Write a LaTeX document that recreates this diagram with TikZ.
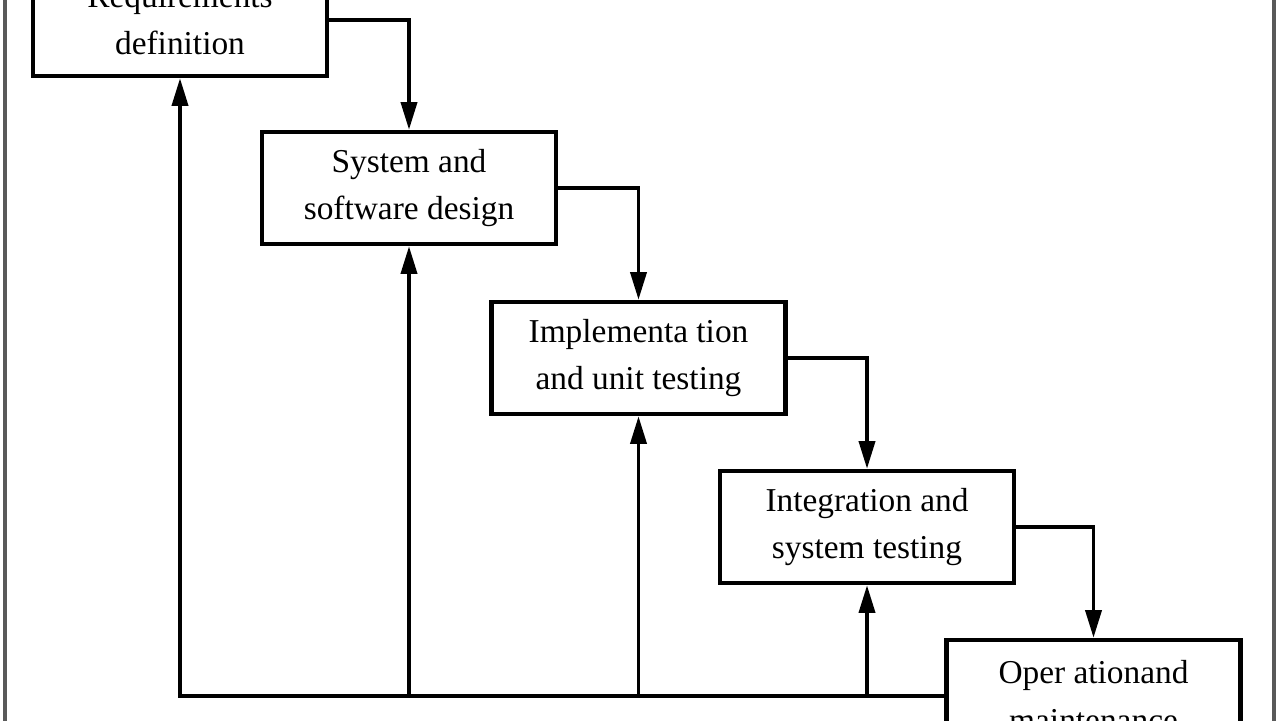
\documentclass[tikz,border=0pt]{standalone}
\usepackage{fontspec}
\setmainfont{Liberation Serif}
\usetikzlibrary{arrows.meta}
\begin{document}
\begin{tikzpicture}[x=0.02cm,y=-0.02cm,
  stage/.style={draw=black,line width=2.6pt,fill=white,minimum width=5.88cm,minimum height=2.24cm,
    align=center,font=\fontsize{19}{27}\selectfont,inner sep=0pt},
  flow/.style={line width=2pt,-{Triangle[length=0.55cm,width=0.32cm]}}]
\useasboundingbox (0,0) rectangle (1280,720);
\clip (0,0) rectangle (1280,720);
\fill[white] (0,0) rectangle (1280,720);
\draw[line width=2.2pt,draw=black!65] (5,-20) rectangle (1274,740);
\node[stage] (b1) at (180,20) {Requirements\\definition};
\node[stage] (b2) at (409,188) {System and\\software design};
\node[stage] (b3) at (638.5,358) {Implementa tion\\and unit testing};
\node[stage] (b4) at (867,527) {Integration and\\system testing};
\node[stage] (b5) at (1093.5,696) {Oper ationand\\maintenance};
\draw[flow] (b1.east) -| (b2.north);
\draw[flow] (b2.east) -| (b3.north);
\draw[flow] (b3.east) -| (b4.north);
\draw[flow] (b4.east) -| (b5.north);
\draw[flow] (b5.west) -| (b1.south);
\draw[flow] (b2.south |- b5.west) -- (b2.south);
\draw[flow] (b3.south |- b5.west) -- (b3.south);
\draw[flow] (b4.south |- b5.west) -- (b4.south);
\end{tikzpicture}
\end{document}
